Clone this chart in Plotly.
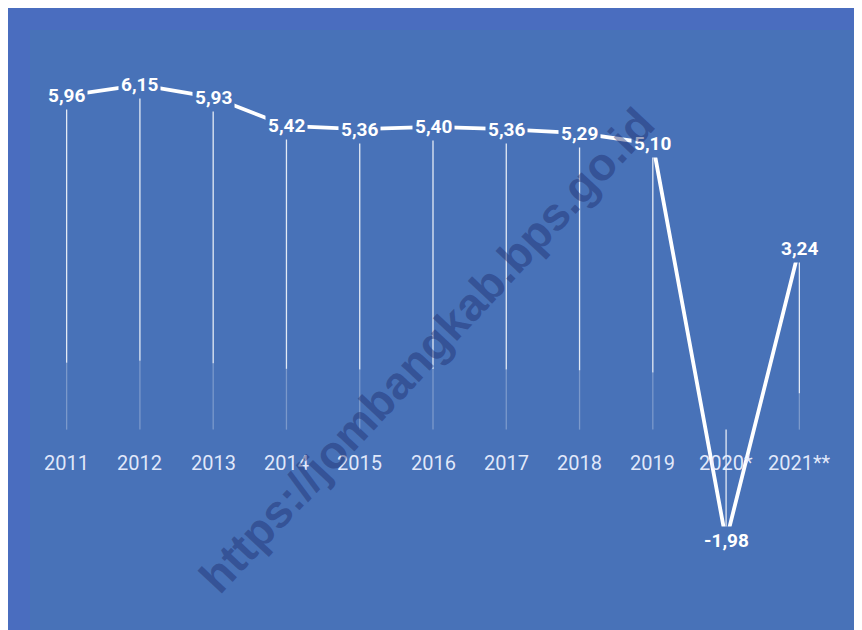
import plotly.graph_objects as go

years = ["2011", "2012", "2013", "2014", "2015", "2016", "2017", "2018", "2019", "2020", "2021"]
tick_labels = ["2011", "2012", "2013", "2014", "2015", "2016", "2017", "2018", "2019", "2020*", "2021**"]
growth = [5.96, 6.15, 5.93, 5.42, 5.36, 5.40, 5.36, 5.29, 5.10, -1.98, 3.24]

BG = "#4872b8"
BAND = "#4a6dbf"
FONT = "Liberation Sans Narrow, Roboto, sans-serif"

fig = go.Figure()

# drop lines (fading toward the axis)
xs_solid, ys_solid, xs_faint, ys_faint = [], [], [], []
for x, v in zip(years, growth):
    if v >= 0:
        xs_solid += [x, x, None]
        ys_solid += [v, v * 0.2, None]
        xs_faint += [x, x, None]
        ys_faint += [v * 0.2, 0, None]
    else:
        xs_solid += [x, x, None]
        ys_solid += [0, v, None]
fig.add_trace(go.Scatter(x=xs_solid, y=ys_solid, mode="lines",
                         line=dict(color="rgba(255,255,255,0.85)", width=1.3),
                         hoverinfo="skip", showlegend=False))
fig.add_trace(go.Scatter(x=xs_faint, y=ys_faint, mode="lines",
                         line=dict(color="rgba(255,255,255,0.28)", width=1.3),
                         hoverinfo="skip", showlegend=False))

# main line
fig.add_trace(go.Scatter(x=years, y=growth, mode="lines",
                         line=dict(color="white", width=3.8),
                         showlegend=False))

# category labels (below the zero line); x given as category index
for i, lab in enumerate(tick_labels):
    fig.add_annotation(x=i, y=0, xref="x", yref="y", text=lab, showarrow=False,
                       yshift=-33,
                       font=dict(family=FONT, size=20, color="rgba(235,240,255,0.95)"))

# data labels with opaque background
for i, v in enumerate(growth):
    fig.add_annotation(x=i, y=v, xref="x", yref="y",
                       text="<b>" + f"{v:.2f}".replace(".", ",") + "</b>", showarrow=False,
                       font=dict(family=FONT, size=19, color="white"),
                       bgcolor=BG, borderpad=2)

# watermark
fig.add_annotation(x=0.4925, y=0.4386, xref="paper", yref="paper",
                   text="<b>https://jombangkab.bps.go.id</b>", showarrow=False,
                   textangle=-47,
                   font=dict(family="Liberation Sans, Arial, sans-serif", size=46,
                             color="rgba(30,45,110,0.45)"))

# subtly lighter bands at top and left edges
fig.add_shape(type="rect", xref="paper", yref="paper", x0=-0.03, x1=1.05, y0=1.0, y1=1.05,
              fillcolor=BAND, line_width=0, layer="below")
fig.add_shape(type="rect", xref="paper", yref="paper", x0=-0.03, x1=0.0, y0=-0.07, y1=1.05,
              fillcolor=BAND, line_width=0, layer="below")

fig.update_layout(
    width=862, height=630,
    margin=dict(l=22, r=34, t=22, b=38),
    paper_bgcolor=BG, plot_bgcolor=BG,
    xaxis=dict(type="category", categoryorder="array", categoryarray=years,
               range=[-0.5, len(years) - 0.5],
               showgrid=False, zeroline=False, showline=False, ticks="",
               showticklabels=False),
    yaxis=dict(range=[-3.04, 7.13], showgrid=False, zeroline=False,
               showticklabels=False, showline=False),
)

fig.write_html("out.html")
